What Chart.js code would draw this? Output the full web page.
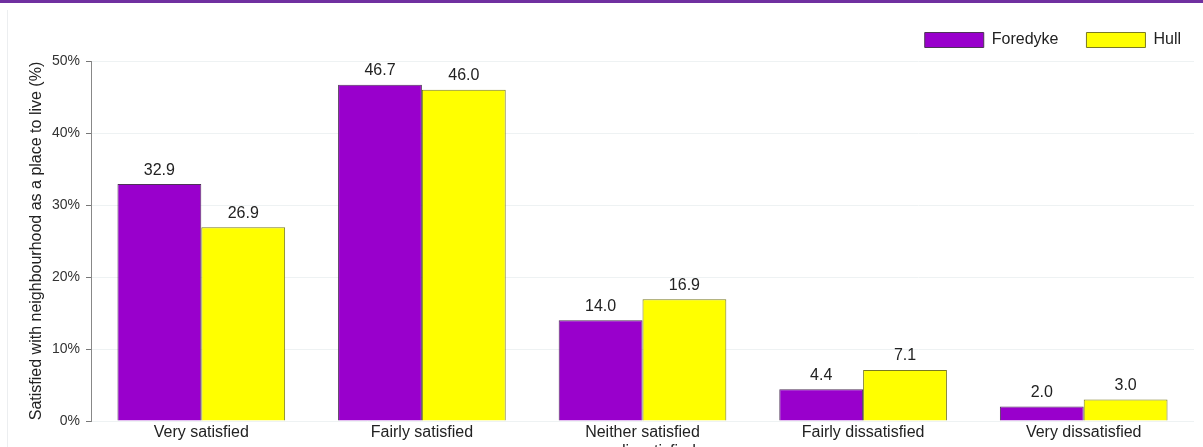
<!DOCTYPE html>
<html lang="en">
<head>
  <meta charset="UTF-8" />
  <title>Satisfaction with neighbourhood</title>
  <script src="https://cdn.jsdelivr.net/npm/chart.js"></script>
  <style>
    body {
      margin: 0;
      background: #fff;
      font-family: Arial, "Liberation Sans", sans-serif;
    }
    .topbar {
      position: absolute;
      left: 0; top: 0;
      width: 1203px; height: 3px;
      background: #7030a0;
    }
    .frame {
      position: absolute;
      left: 7px; top: 10px;
      width: 1196px; height: 437px;
      border-left: 1px solid #eceef0;
    }
    .wrap {
      position: absolute;
      left: 0; top: 0;
      width: 1203px; height: 447px;
      overflow: hidden;
    }
  </style>
</head>
<body>
  <div class="topbar"></div>
  <div class="frame"></div>
  <div class="wrap">
    <canvas id="chart" width="1203" height="470"></canvas>
  </div>

  <script>
    const categories = [
      "Very satisfied",
      "Fairly satisfied",
      ["Neither satisfied", "nor dissatisfied"],
      "Fairly dissatisfied",
      "Very dissatisfied"
    ];
    const foredyke = [32.9, 46.7, 14.0, 4.4, 2.0];
    const hull = [26.9, 46.0, 16.9, 7.1, 3.0];
    const yTicks = [0, 10, 20, 30, 40, 50];

    const FONT = "Arial, 'Liberation Sans', sans-serif";

    // value labels above each bar
    const barLabels = {
      id: "barLabels",
      afterDatasetsDraw(chart) {
        const ctx = chart.ctx;
        ctx.save();
        ctx.font = "16px " + FONT;
        ctx.fillStyle = "#222";
        ctx.textAlign = "center";
        ctx.textBaseline = "bottom";
        chart.data.datasets.forEach((ds, i) => {
          chart.getDatasetMeta(i).data.forEach((bar, j) => {
            ctx.fillText(ds.data[j].toFixed(1), bar.x, bar.y - 6);
          });
        });
        ctx.restore();
      }
    };

    // a little extra room under the legend
    const legendGap = {
      id: "legendGap",
      afterInit(chart) {
        const fit = chart.legend.fit;
        chart.legend.fit = function () {
          fit.call(this);
          this.height += 3;
        };
      }
    };

    new Chart(document.getElementById("chart"), {
      type: "bar",
      data: {
        labels: categories,
        datasets: [
          {
            label: "Foredyke",
            data: foredyke,
            backgroundColor: "#9900cc",
            borderColor: "#4e3358",
            borderWidth: 1
          },
          {
            label: "Hull",
            data: hull,
            backgroundColor: "#ffff00",
            borderColor: "#7a7a22",
            borderWidth: 1
          }
        ]
      },
      options: {
        responsive: false,
        animation: false,
        barPercentage: 1,
        categoryPercentage: 0.76,
        layout: { padding: { left: 23, right: -6, top: 4, bottom: 9 } },
        plugins: {
          tooltip: { enabled: false },
          legend: {
            position: "top",
            align: "end",
            labels: {
              boxWidth: 59,
              boxHeight: 15,
              padding: 28,
              color: "#222",
              font: { family: FONT, size: 16 }
            }
          }
        },
        scales: {
          x: {
            grid: { display: false, drawTicks: false },
            border: { display: false },
            ticks: {
              padding: 2,
              color: "#222",
              maxRotation: 0,
              autoSkip: false,
              font: { family: FONT, size: 16 }
            },
            afterFit(scale) {
              scale.height = 40;
              scale.paddingRight = 9;
            }
          },
          y: {
            min: 0,
            max: 50,
            afterBuildTicks(scale) { scale.ticks = yTicks.map(v => ({ value: v })); },
            grid: { color: "#eef2f3", tickColor: "#777", tickLength: 5 },
            border: { color: "#888" },
            ticks: {
              padding: 6,
              color: "#333",
              callback: v => v + "%",
              font: { family: FONT, size: 14 }
            },
            title: {
              display: true,
              text: "Satisfied with neighbourhood as a place to live (%)",
              color: "#222",
              padding: 4,
              font: { family: FONT, size: 16 }
            },
            afterFit(scale) { scale.width = 68; }
          }
        }
      },
      plugins: [barLabels, legendGap]
    });
  </script>
</body>
</html>
